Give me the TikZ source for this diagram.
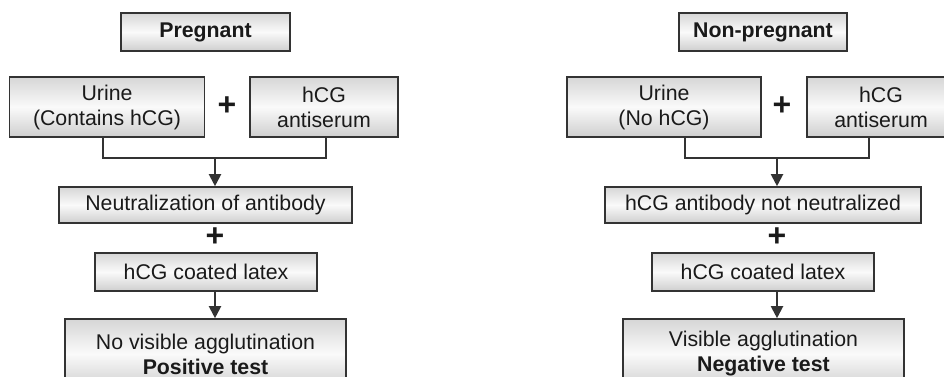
\documentclass[tikz,border=0pt]{standalone}
\usepackage{fontspec}
\setmainfont{Liberation Sans}
\usetikzlibrary{arrows.meta,calc}
\definecolor{ln}{HTML}{333333}
\definecolor{tx}{HTML}{1A1A1A}
\tikzset{
  box/.style={draw=ln, line width=1.6pt, top color=gray!32, bottom color=gray!38, middle color=white!96!gray,
    text=tx, align=center, inner sep=0pt, font=\fontsize{21.3}{25}\selectfont},
  plus/.style={text=tx, font=\bfseries\fontsize{32}{32}\selectfont, inner sep=0pt},
  link/.style={draw=ln, line width=2pt},
  arr/.style={draw=ln, line width=2pt, -{Triangle[length=12pt,width=12pt]}},
}
\begin{document}
\begin{tikzpicture}[x=1pt,y=-1pt]
\useasboundingbox (0,0) rectangle (944,377);
% left column
\node[box, minimum width=169, minimum height=38] (preg) at (205.5,32) {\textbf{Pregnant}};
\node[box, minimum width=195, minimum height=60] (urineL) at (107,107) {Urine\\(Contains hCG)};
\node[plus] (plusL) at (227,106) {+};
\node[box, minimum width=148, minimum height=60] (antiL) at (324,107) {hCG\\antiserum};
\node[box, minimum width=293, minimum height=36] (neutL) at (205.5,205) {Neutralization of antibody};
\node[plus] (plusL2) at (215,237) {+};
\node[box, minimum width=222, minimum height=38] (latexL) at (206,272) {hCG coated latex};
\node[box, minimum width=281, minimum height=70] (finalL) at (205.5,354) {No visible agglutination\\\textbf{Positive test}};
\coordinate (jL) at (215,158);
\draw[link] ([xshift=-4pt]urineL.south) |- (jL) -| ([xshift=2pt]antiL.south);
\draw[arr] (jL) -- (jL |- neutL.north);
\draw[arr] (latexL.south -| jL) -- (finalL.north -| jL);
% right column
\node[box, minimum width=168, minimum height=38] (npreg) at (763,32) {\textbf{Non-pregnant}};
\node[box, minimum width=194, minimum height=60] (urineR) at (664,107) {Urine\\(No hCG)};
\node[plus] (plusR) at (782,106) {+};
\node[box, minimum width=148, minimum height=60] (antiR) at (881,107) {hCG\\antiserum};
\node[box, minimum width=316, minimum height=36] (neutR) at (763,205) {hCG antibody not neutralized};
\node[plus] (plusR2) at (777,237) {+};
\node[box, minimum width=222, minimum height=38] (latexR) at (763,272) {hCG coated latex};
\node[box, minimum width=281, minimum height=70] (finalR) at (763.5,354) {Visible agglutination\\\textbf{Negative test}};
\coordinate (jR) at (777,158);
\draw[link] ([xshift=21pt]urineR.south) |- (jR) -| ([xshift=-12pt]antiR.south);
\draw[arr] (jR) -- (jR |- neutR.north);
\draw[arr] (latexR.south -| jR) -- (finalR.north -| jR);
\end{tikzpicture}
\end{document}
